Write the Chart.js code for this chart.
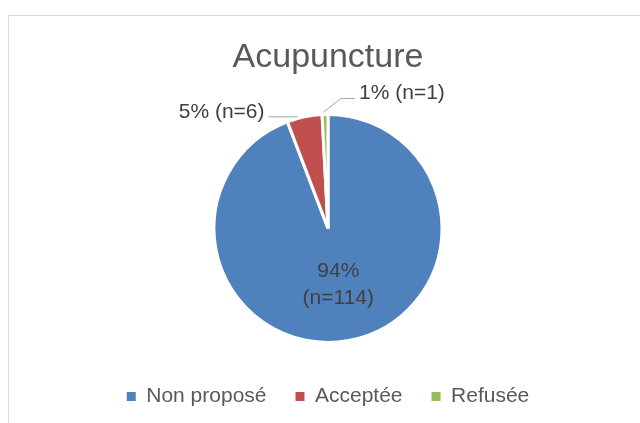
<!DOCTYPE html>
<html>
<head>
<meta charset="utf-8">
<script src="https://cdn.jsdelivr.net/npm/chart.js@4/dist/chart.umd.min.js"></script>
<style>
  html, body { margin: 0; padding: 0; background: #ffffff; }
  #wrap { position: relative; width: 640px; height: 423px; }
</style>
</head>
<body>
<div id="wrap"><canvas id="c" width="640" height="423"></canvas></div>
<script>
const chartTitle = 'Acupuncture';
const categories = ['Non proposé', 'Acceptée', 'Refusée'];
const counts = [114, 6, 1];
const sliceColors = ['#4F81BD', '#C0504D', '#9BBB59'];

const FONT = "'Liberation Sans', Arial, sans-serif";
const total = counts.reduce((a, b) => a + b, 0);

const frameBorder = {
  id: 'frameBorder',
  beforeDraw(chart) {
    const ctx = chart.ctx;
    ctx.save();
    ctx.fillStyle = '#ffffff';
    ctx.fillRect(0, 0, chart.width, chart.height);
    ctx.strokeStyle = '#d9d9d9';
    ctx.lineWidth = 1;
    ctx.beginPath();
    ctx.moveTo(8.5, chart.height);
    ctx.lineTo(8.5, 15.5);
    ctx.lineTo(chart.width, 15.5);
    ctx.stroke();
    ctx.restore();
  }
};

const sliceLabels = {
  id: 'sliceLabels',
  afterDatasetsDraw(chart) {
    const ctx = chart.ctx;
    const meta = chart.getDatasetMeta(0);
    ctx.save();
    ctx.font = '21px ' + FONT;
    ctx.fillStyle = '#404040';
    ctx.textBaseline = 'middle';
    meta.data.forEach((arc, i) => {
      const p = arc.getProps(['x', 'y', 'startAngle', 'endAngle', 'outerRadius'], true);
      const mid = (p.startAngle + p.endAngle) / 2;
      const pct = Math.round(counts[i] / total * 100) + '%';
      const nTxt = '(n=' + counts[i] + ')';
      const ex = p.x + p.outerRadius * Math.cos(mid);
      const ey = p.y + p.outerRadius * Math.sin(mid);
      if (i === 0) {
        const c = arc.getCenterPoint();
        ctx.textAlign = 'center';
        ctx.fillText(pct, c.x, c.y - 13);
        ctx.fillText(nTxt, c.x, c.y + 14);
      } else if (i === 1) {
        ctx.strokeStyle = '#a6a6a6';
        ctx.lineWidth = 1;
        ctx.beginPath();
        ctx.moveTo(ex - 7, ey);
        ctx.lineTo(ex - 36, ey);
        ctx.stroke();
        ctx.textAlign = 'right';
        ctx.fillText(pct + ' ' + nTxt, ex - 40, ey - 5);
      } else {
        ctx.strokeStyle = '#a6a6a6';
        ctx.lineWidth = 1;
        ctx.beginPath();
        ctx.moveTo(ex - 2, ey - 2);
        ctx.lineTo(ex + 16, ey - 16);
        ctx.lineTo(ex + 30, ey - 16);
        ctx.stroke();
        ctx.textAlign = 'left';
        ctx.fillText(pct + ' ' + nTxt, ex + 34, ey - 21);
      }
    });
    ctx.restore();
  }
};

new Chart(document.getElementById('c'), {
  type: 'pie',
  data: {
    labels: categories,
    datasets: [{
      data: counts,
      backgroundColor: sliceColors,
      borderColor: '#ffffff',
      borderWidth: 3,
      radius: 114
    }]
  },
  options: {
    responsive: false,
    animation: false,
    devicePixelRatio: 1,
    layout: { padding: { top: 15, left: 16, right: 0, bottom: 6 } },
    plugins: {
      title: {
        display: true,
        text: chartTitle,
        color: '#595959',
        font: { family: FONT, size: 34, weight: 'normal' },
        padding: { top: 22, bottom: 22 }
      },
      legend: {
        display: true,
        position: 'bottom',
        labels: {
          color: '#595959',
          font: { family: FONT, size: 21 },
          boxWidth: 9,
          boxHeight: 9,
          padding: 29,
          generateLabels(chart) {
            const items = Chart.overrides.pie.plugins.legend.labels.generateLabels(chart);
            items.forEach(it => { it.lineWidth = 0; it.strokeStyle = it.fillStyle; });
            return items;
          }
        }
      },
      tooltip: { enabled: false }
    }
  },
  plugins: [frameBorder, sliceLabels]
});
</script>
</body>
</html>
